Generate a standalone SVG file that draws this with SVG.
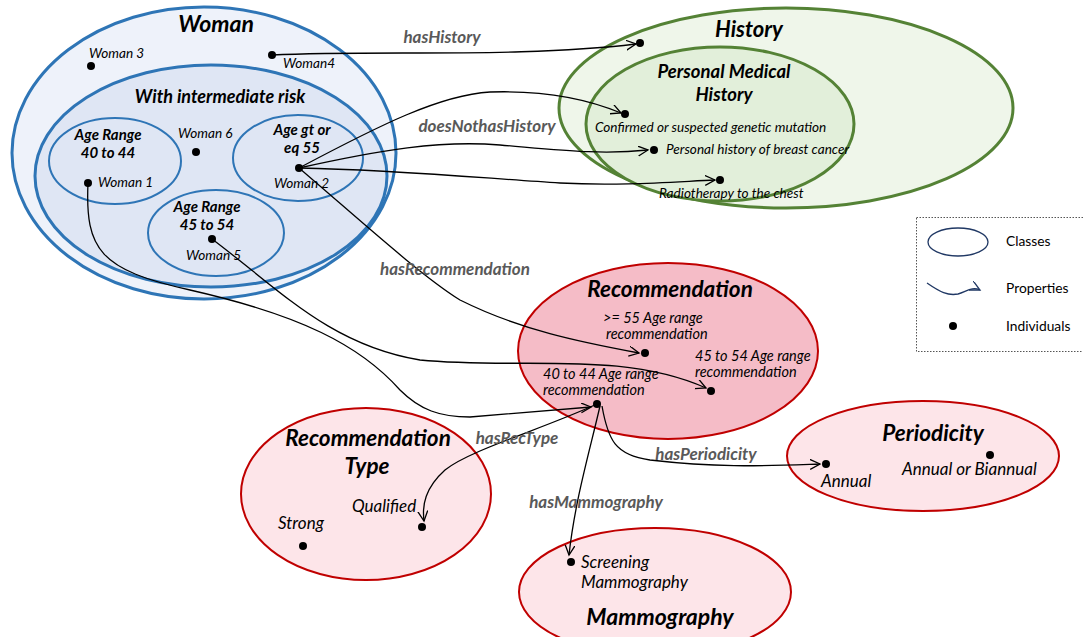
<svg xmlns="http://www.w3.org/2000/svg" width="1083" height="637" viewBox="0 0 1083 637">
<defs>
<marker id="arr" markerWidth="12" markerHeight="12" refX="10" refY="5" orient="auto" markerUnits="userSpaceOnUse">
<path d="M0,0 L10,5 L0,10" fill="none" stroke="#000" stroke-width="1.3"/>
</marker>
<marker id="arrL" markerWidth="12" markerHeight="12" refX="10" refY="5" orient="auto" markerUnits="userSpaceOnUse">
<path d="M0,0 L10,5 L0,10" fill="none" stroke="#203864" stroke-width="1.3"/>
</marker>
</defs>
<style>
text{font-family:Lato,"Open Sans","Liberation Sans",sans-serif;fill:#000}
.t{font-weight:bold;font-style:italic;text-anchor:middle}
.i{font-style:italic;font-size:13.6px}
.s{font-style:italic;font-size:17px}
.r{font-style:italic;font-size:14.5px}
.p{font-weight:bold;font-style:italic;font-size:17px;fill:#595959;text-anchor:middle}
.dot{fill:#000}
.blue{stroke:#2e75b6;stroke-width:3}
.blueT{stroke:#2e75b6;stroke-width:2}
.green{stroke:#548235;stroke-width:3}
.red{stroke:#c00000;stroke-width:2}
.c{fill:none;stroke:#000;stroke-width:1.3;marker-end:url(#arr)}
.lg{font-size:13.8px}
</style>
<rect width="1083" height="637" fill="#fff"/>

<g id="woman">
<ellipse cx="204" cy="153" rx="192" ry="146" fill="#eef2fa" class="blue"/>
<text x="216" y="32" class="t" font-size="23">Woman</text>
<circle cx="91" cy="66" r="4" class="dot"/><text x="89" y="58" class="i">Woman 3</text>
<circle cx="272" cy="55" r="4" class="dot"/><text x="283" y="68" class="i">Woman4</text>
</g>
<g id="intermediate">
<ellipse cx="211" cy="176" rx="176" ry="111" fill="#dfe6f4" class="blue"/>
<text x="220" y="103" class="t" font-size="18">With intermediate risk</text>
<circle cx="196" cy="152" r="4" class="dot"/><text x="178" y="138" class="i">Woman 6</text>
</g>
<g id="age4044">
<ellipse cx="115" cy="161" rx="66" ry="43" fill="none" class="blueT"/>
<text x="108" y="140" class="t" font-size="15">Age Range</text>
<text x="108" y="158" class="t" font-size="15">40 to 44</text>
<circle cx="88" cy="183" r="4" class="dot"/><text x="98" y="187" class="i">Woman 1</text>
</g>
<g id="age55">
<ellipse cx="298" cy="158" rx="65" ry="43" fill="none" class="blueT"/>
<text x="302" y="135" class="t" font-size="15">Age gt or</text>
<text x="302" y="153" class="t" font-size="15">eq 55</text>
<circle cx="299" cy="168" r="4" class="dot"/><text x="274" y="188" class="i">Woman 2</text>
</g>
<g id="age4554">
<ellipse cx="216" cy="233" rx="68" ry="43" fill="none" class="blueT"/>
<text x="207" y="212" class="t" font-size="15">Age Range</text>
<text x="207" y="230" class="t" font-size="15">45 to 54</text>
<circle cx="212" cy="239" r="4" class="dot"/><text x="186" y="260" class="i">Woman 5</text>
</g>

<g id="history">
<ellipse cx="786" cy="108" rx="227" ry="100" fill="#eff6ea" class="green"/>
<text x="749" y="37" class="t" font-size="22">History</text>
<circle cx="640" cy="43" r="4" class="dot"/>
</g>
<g id="personal">
<ellipse cx="720" cy="124" rx="134" ry="77" fill="#e2efda" class="green"/>
<text x="724" y="78" class="t" font-size="18.5">Personal Medical</text>
<text x="724" y="101" class="t" font-size="18.5">History</text>
<circle cx="625" cy="114" r="4" class="dot"/><text x="595" y="132" class="i">Confirmed or suspected genetic mutation</text>
<circle cx="654" cy="150" r="4" class="dot"/><text x="666" y="154" class="i">Personal history of breast cancer</text>
<circle cx="720" cy="180" r="4" class="dot"/><text x="659" y="198" class="i">Radiotherapy to the chest</text>
</g>

<g id="legend">
<rect x="916.5" y="217.5" width="170" height="134" fill="#fff" stroke="#555" stroke-width="1" stroke-dasharray="1.5,1.5"/>
<ellipse cx="958" cy="242" rx="30" ry="14" fill="none" stroke="#203864" stroke-width="1.3"/>
<text x="1006" y="246" class="lg">Classes</text>
<path d="M927,283 C940,292 948,296 958,294 C966,292 972,286 980,290" fill="none" stroke="#203864" stroke-width="1.3" marker-end="url(#arrL)"/>
<text x="1006" y="293" class="lg">Properties</text>
<circle cx="953" cy="326" r="4" class="dot"/>
<text x="1006" y="331" class="lg">Individuals</text>
</g>

<g id="recommendation">
<ellipse cx="668" cy="351" rx="150" ry="88" fill="#f5bcc7" class="red"/>
<text x="670" y="297" class="t" font-size="22.5">Recommendation</text>
<text x="603" y="323" class="r">&gt;= 55 Age range</text>
<text x="606" y="339" class="r">recommendation</text>
<circle cx="645" cy="353" r="4" class="dot"/>
<text x="695" y="361" class="r">45 to 54 Age range</text>
<text x="695" y="377" class="r">recommendation</text>
<circle cx="711" cy="391" r="4" class="dot"/>
<text x="543" y="379" class="r">40 to 44 Age range</text>
<text x="543" y="395" class="r">recommendation</text>
<circle cx="597" cy="404" r="4" class="dot"/>
</g>

<g id="rectype">
<ellipse cx="366" cy="494" rx="125" ry="86" fill="#fde5e9" class="red"/>
<text x="368" y="446" class="t" font-size="22.5">Recommendation</text>
<text x="367" y="474" class="t" font-size="22.5">Type</text>
<text x="352" y="512" class="s">Qualified</text>
<circle cx="422" cy="527" r="4" class="dot"/>
<text x="278" y="529" class="s">Strong</text>
<circle cx="303" cy="546" r="4" class="dot"/>
</g>

<g id="periodicity">
<ellipse cx="923" cy="456" rx="136" ry="55" fill="#fde5e9" class="red"/>
<text x="933" y="441" class="t" font-size="22.5">Periodicity</text>
<circle cx="826" cy="464" r="4" class="dot"/>
<text x="821" y="487" class="s">Annual</text>
<circle cx="990" cy="455" r="4" class="dot"/>
<text x="902" y="475" class="s">Annual or Biannual</text>
</g>

<g id="mammography">
<ellipse cx="655" cy="592" rx="136" ry="64" fill="#fde5e9" class="red"/>
<circle cx="571" cy="562" r="4" class="dot"/>
<text x="581" y="568" class="s">Screening</text>
<text x="581" y="588" class="s">Mammography</text>
<text x="660" y="625" class="t" font-size="23">Mammography</text>
</g>

<g id="connectors">
<path class="c" d="M272,55 C380,50 520,58 636,44"/>
<path class="c" d="M299,168 C380,125 440,95 490,92 C550,90 590,100 621,113"/>
<path class="c" d="M299,168 C380,150 440,140 500,145 C560,150 600,155 648,150"/>
<path class="c" d="M299,168 C400,170 480,178 560,183 C620,186 670,182 715,180"/>
<path class="c" d="M299,168 C360,220 420,275 460,300 C520,330 580,342 639,353"/>
<path class="c" d="M212,239 C280,290 330,345 420,360 C520,370 620,350 706,388"/>
<path class="c" d="M88,183 C85,250 100,270 190,290 C300,315 360,345 400,390 C420,410 440,417 470,417 L591,407"/>
<path class="c" d="M597,404 C540,430 470,450 445,470 C425,488 422,505 424,521"/>
<path class="c" d="M600,406 C590,450 575,500 569,555"/>
<path class="c" d="M602,406 C608,440 615,455 650,460 C720,468 760,466 820,464"/>
<text x="442" y="43" class="p">hasHistory</text>
<text x="487" y="132" class="p">doesNothasHistory</text>
<text x="455" y="275" class="p">hasRecommendation</text>
<text x="517" y="444" class="p">hasRecType</text>
<text x="706" y="460" class="p">hasPeriodicity</text>
<text x="596" y="508" class="p">hasMammography</text>
</g>
</svg>
